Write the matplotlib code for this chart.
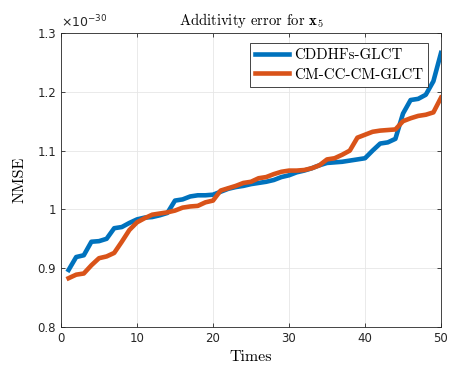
import numpy as np
import matplotlib.pyplot as plt

# NMSE values (x 1e-30) for 50 runs
times = np.arange(1, 51)
cddhfs = [0.897, 0.919, 0.922, 0.945, 0.946, 0.950, 0.968, 0.970, 0.977, 0.983,
          0.986, 0.987, 0.990, 0.994, 1.015, 1.017, 1.022, 1.024, 1.024, 1.025,
          1.030, 1.035, 1.038, 1.040, 1.043, 1.045, 1.047, 1.050, 1.055, 1.058,
          1.063, 1.066, 1.070, 1.075, 1.079, 1.080, 1.081, 1.083, 1.085, 1.087,
          1.100, 1.112, 1.114, 1.120, 1.163, 1.186, 1.188, 1.195, 1.218, 1.266]
cmcc = [0.883, 0.889, 0.891, 0.905, 0.917, 0.920, 0.926, 0.945, 0.965, 0.978,
        0.985, 0.991, 0.993, 0.995, 0.998, 1.003, 1.005, 1.006, 1.012, 1.015,
        1.032, 1.036, 1.040, 1.045, 1.047, 1.053, 1.055, 1.060, 1.064, 1.066,
        1.066, 1.067, 1.070, 1.075, 1.085, 1.087, 1.093, 1.100, 1.122, 1.127,
        1.132, 1.134, 1.135, 1.136, 1.150, 1.155, 1.159, 1.161, 1.165, 1.190]
labels = ['CDDHFs-GLCT', 'CM-CC-CM-GLCT']
colors = ['#0072BD', '#D95319']

plt.rcParams['mathtext.fontset'] = 'cm'
plt.rcParams['axes.unicode_minus'] = False

fig = plt.figure(figsize=(4.53, 3.73), dpi=100)
ax = fig.add_axes([61 / 453, 1 - 327 / 373, 380 / 453, 294 / 373])

ax.plot(times, cddhfs, color=colors[0], lw=3.3, label=labels[0])
ax.plot(times, cmcc, color=colors[1], lw=3.3, label=labels[1])

ax.set_xlim(0, 50)
ax.set_ylim(0.8, 1.3)
ax.set_xticks([0, 10, 20, 30, 40, 50])
ax.set_yticks([0.8, 0.9, 1.0, 1.1, 1.2, 1.3])
ax.set_yticklabels(['0.8', '0.9', '1', '1.1', '1.2', '1.3'])
ax.tick_params(direction='in', top=True, right=True, labelsize=8.5,
               length=3, width=0.6, colors='#262626')
ax.grid(True, color='#e6e6e6', lw=0.6)
for s in ax.spines.values():
    s.set_color('#262626')
    s.set_linewidth(0.6)

ax.text(0.0, 1.01, r'$\times 10^{-30}$', transform=ax.transAxes,
        fontsize=9, color='#262626', ha='left', va='bottom',
        math_fontfamily='dejavusans')
ax.set_title(r'Additivity error for $\mathbf{x}_5$', fontfamily='cmr10',
             fontsize=10.6, pad=6)
ax.set_xlabel('Times', fontfamily='cmr10', fontsize=11.5, labelpad=4)
ax.set_ylabel('NMSE', fontfamily='cmr10', fontsize=11.5, labelpad=8)

leg = ax.legend(loc='upper right', bbox_to_anchor=(0.966, 0.966),
                borderaxespad=0, prop={'family': 'cmr10', 'size': 10.8},
                fancybox=False, edgecolor='#262626', framealpha=1,
                handlelength=2.27, handletextpad=0.3, borderpad=0.35,
                labelspacing=0.4)
leg.get_frame().set_linewidth(0.6)

fig.savefig('out.png', dpi=100)
